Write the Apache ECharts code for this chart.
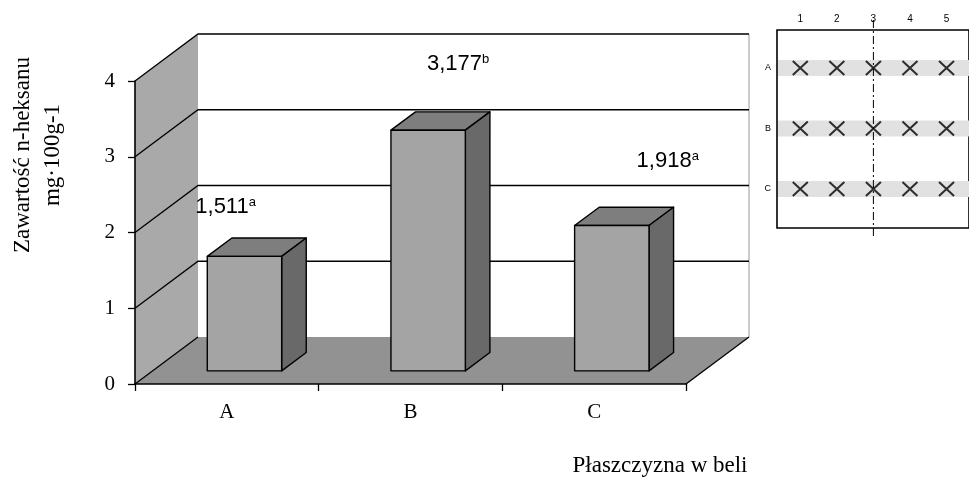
<!DOCTYPE html>
<html>
<head>
<meta charset="utf-8">
<script src="https://cdn.jsdelivr.net/npm/echarts@6/dist/echarts.min.js"></script>
<style>
  html, body { margin: 0; padding: 0; background: #fff; }
  #chart { width: 969px; height: 482px; }
</style>
</head>
<body>
<div id="chart"></div>
<script>
// n-hexane content by bale plane
const categories = ['A', 'B', 'C'];
const contentValues = [1.511, 3.177, 1.918];
const groupLetters = ['a', 'b', 'a'];
const yTicks = [0, 1, 2, 3, 4];

// sampling scheme of the bale
const sampleCols = ['1', '2', '3', '4', '5'];
const sampleRows = ['A', 'B', 'C'];
const cutColumn = 3;

// oblique projection of the 3D box, in pixels
const DEPTH_X = 63, DEPTH_Y = 47;
// bar placement inside the box depth / category band
const BAR_FRONT = 0.28, BAR_DEPTH = 0.39, BAR_WIDTH = 0.405;
// hand placed value labels, relative to the bar's top front-left corner
const labelNudge = [[-12, -49], [36, -66], [62, -65]];

const SERIF = '"Liberation Serif", "Times New Roman", serif';
const SANS = '"Liberation Sans", Arial, sans-serif';

const chart = echarts.init(document.getElementById('chart'), null, { renderer: 'canvas' });

// side wall, floor and back-wall edges
function renderBox(params, api) {
  const cs = params.coordSys;
  const x0 = cs.x, x1 = cs.x + cs.width, yt = cs.y, yb = cs.y + cs.height;
  return {
    type: 'group',
    children: [
      { type: 'polygon', shape: { points: [[x0, yb], [x0, yt], [x0 + DEPTH_X, yt - DEPTH_Y], [x0 + DEPTH_X, yb - DEPTH_Y]] },
        style: { fill: '#a9a9a9' } },
      { type: 'polygon', shape: { points: [[x0, yb], [x1, yb], [x1 + DEPTH_X, yb - DEPTH_Y], [x0 + DEPTH_X, yb - DEPTH_Y]] },
        style: { fill: '#929292' } },
      { type: 'line', shape: { x1: x1 + DEPTH_X, y1: yt - DEPTH_Y, x2: x1 + DEPTH_X, y2: yb - DEPTH_Y },
        style: { stroke: '#9a9a9a', lineWidth: 1 } },
      { type: 'line', shape: { x1: x1, y1: yb, x2: x1 + DEPTH_X, y2: yb - DEPTH_Y },
        style: { stroke: '#000', lineWidth: 1.3 } }
    ]
  };
}

// gridline folded over the side wall and the back wall
function renderGridLine(params, api) {
  const cs = params.coordSys;
  const v = api.value(1);
  const y = api.coord([0, v])[1];
  const x0 = cs.x, x1 = cs.x + cs.width;
  const pts = v === 0
    ? [[x0, y], [x0 + DEPTH_X, y - DEPTH_Y]]
    : [[x0, y], [x0 + DEPTH_X, y - DEPTH_Y], [x1 + DEPTH_X, y - DEPTH_Y]];
  return { type: 'polyline', shape: { points: pts }, style: { stroke: '#000', lineWidth: 1.3, fill: null } };
}

// 3D column with its value label
function renderColumn(params, api) {
  const i = api.value(0), v = api.value(1);
  const base = api.coord([i, 0]);
  const top = api.coord([i, v]);
  const band = api.size([1, 0])[0];
  const w = band * BAR_WIDTH;
  const fx = base[0] - w / 2 + DEPTH_X * BAR_FRONT;
  const fyb = base[1] - DEPTH_Y * BAR_FRONT;
  const fyt = top[1] - DEPTH_Y * BAR_FRONT;
  const dx = DEPTH_X * BAR_DEPTH, dy = DEPTH_Y * BAR_DEPTH;
  const edge = { stroke: '#000', lineWidth: 1.4, lineJoin: 'round' };
  const text = v.toFixed(3).replace('.', ',');
  return {
    type: 'group',
    children: [
      { type: 'polygon', shape: { points: [[fx, fyt], [fx + w, fyt], [fx + w + dx, fyt - dy], [fx + dx, fyt - dy]] },
        style: Object.assign({ fill: '#7e7e7e' }, edge) },
      { type: 'polygon', shape: { points: [[fx + w, fyt], [fx + w + dx, fyt - dy], [fx + w + dx, fyb - dy], [fx + w, fyb]] },
        style: Object.assign({ fill: '#696969' }, edge) },
      { type: 'rect', shape: { x: fx, y: fyt, width: w, height: fyb - fyt },
        style: Object.assign({ fill: '#a4a4a4' }, edge) },
      { type: 'text', x: fx + labelNudge[i][0], y: fyt + labelNudge[i][1],
        style: {
          text: '{n|' + text + '}{s|' + groupLetters[i] + '}',
          align: 'left', verticalAlign: 'middle',
          rich: {
            n: { fontSize: 22, fontFamily: SANS, fill: '#000' },
            s: { fontSize: 13, fontFamily: SANS, fill: '#000', verticalAlign: 'top' }
          }
        } }
    ]
  };
}

// shaded sampling rows of the scheme
function renderRowBand(params, api) {
  const cs = params.coordSys;
  const y = api.coord([1, api.value(1)])[1];
  return { type: 'rect', shape: { x: cs.x + 1, y: y - 8, width: cs.width, height: 16 }, style: { fill: '#e1e1e1' } };
}

// dash-dot cutting line of the scheme
function renderCutLine(params, api) {
  const cs = params.coordSys;
  const x = api.coord([api.value(0), 1])[0];
  return { type: 'line', shape: { x1: x, y1: cs.y - 10, x2: x, y2: cs.y + cs.height + 9 },
    style: { stroke: '#000', lineWidth: 1, lineDash: [8, 3, 2, 3] } };
}

const samplePoints = [];
sampleRows.forEach((r, ri) => sampleCols.forEach((c, ci) => samplePoints.push([ci + 1, ri + 1])));

const option = {
  animation: false,
  backgroundColor: '#fff',
  grid: [
    { left: 135, top: 81, width: 551, height: 303 },
    { left: 777, top: 30, width: 198, height: 198, show: true, borderColor: '#000', borderWidth: 1.6, backgroundColor: 'transparent' }
  ],
  xAxis: [
    {
      type: 'category', gridIndex: 0, data: categories, z: 10,
      axisLine: { lineStyle: { color: '#000', width: 1.6 } },
      axisTick: { show: true, length: 7, lineStyle: { color: '#000', width: 1.3 } },
      axisLabel: { color: '#000', fontFamily: SERIF, fontSize: 21, margin: 18 }
    },
    {
      type: 'value', gridIndex: 1, min: 0.363, max: 5.615, position: 'top',
      axisLine: { show: false }, axisTick: { show: false }, splitLine: { show: false },
      axisLabel: { customValues: sampleCols.map((c, i) => i + 1), formatter: v => sampleCols[Math.round(v) - 1],
        color: '#000', fontFamily: SANS, fontSize: 10, margin: 6 }
    }
  ],
  yAxis: [
    {
      type: 'value', gridIndex: 0, min: 0, max: 4, interval: 1, z: 10,
      axisLine: { show: true, lineStyle: { color: '#000', width: 1.6 } },
      axisTick: { show: true, length: 7, lineStyle: { color: '#000', width: 1.3 } },
      axisLabel: { color: '#000', fontFamily: SERIF, fontSize: 21, margin: 20 },
      splitLine: { show: false }
    },
    {
      type: 'value', gridIndex: 1, inverse: true, min: 0.372, max: 3.645,
      axisLine: { show: false }, axisTick: { show: false }, splitLine: { show: false },
      axisLabel: { customValues: sampleRows.map((r, i) => i + 1), formatter: v => sampleRows[Math.round(v) - 1],
        color: '#000', fontFamily: SANS, fontSize: 9, margin: 6 }
    }
  ],
  graphic: [
    { type: 'text', x: 38, y: 155, rotation: Math.PI / 2,
      style: { text: 'Zawartość n-heksanu\nmg·100g-1', fontSize: 23, fontFamily: SERIF, fill: '#000',
        align: 'center', verticalAlign: 'middle', lineHeight: 30 } },
    { type: 'text', x: 660, y: 466,
      style: { text: 'Płaszczyzna w beli', fontSize: 23, fontFamily: SERIF, fill: '#000',
        align: 'center', verticalAlign: 'middle' } }
  ],
  series: [
    { type: 'custom', xAxisIndex: 0, yAxisIndex: 0, z: 1, silent: true,
      data: [[0, 0]], renderItem: renderBox },
    { type: 'custom', xAxisIndex: 0, yAxisIndex: 0, z: 2, silent: true,
      data: yTicks.map(v => [0, v]), renderItem: renderGridLine },
    { type: 'custom', xAxisIndex: 0, yAxisIndex: 0, z: 3, silent: true,
      data: contentValues.map((v, i) => [i, v]), renderItem: renderColumn },
    { type: 'custom', xAxisIndex: 1, yAxisIndex: 1, z: 1, silent: true,
      data: sampleRows.map((r, i) => [1, i + 1]), renderItem: renderRowBand },
    { type: 'custom', xAxisIndex: 1, yAxisIndex: 1, z: 3, silent: true,
      data: [[cutColumn, 1]], renderItem: renderCutLine },
    { type: 'scatter', xAxisIndex: 1, yAxisIndex: 1, z: 4, silent: true,
      data: samplePoints,
      symbol: 'path://M0 0L10 10M10 0L0 10', symbolSize: [15, 14],
      itemStyle: { color: 'none', borderColor: '#000', borderWidth: 1.9 } }
  ]
};

chart.setOption(option);
</script>
</body>
</html>
